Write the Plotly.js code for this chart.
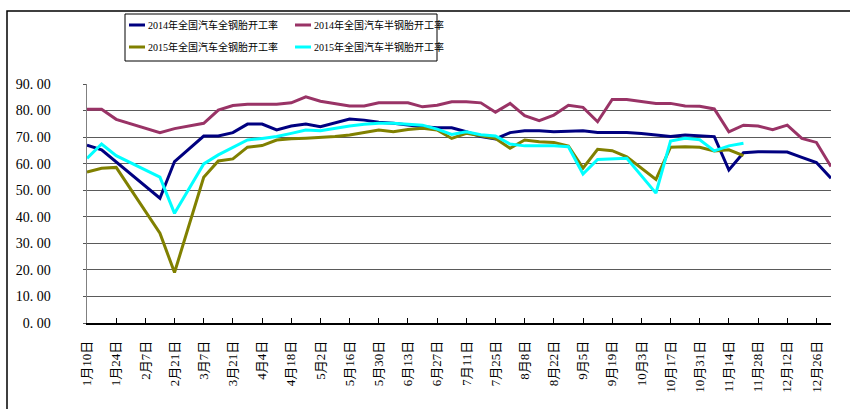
<!DOCTYPE html>
<html>
<head>
<meta charset="utf-8">
<script src="https://cdn.plot.ly/plotly-3.0.1.min.js"></script>
<style>html,body{margin:0;padding:0;background:#fff;}#chart{width:850px;height:409px;}</style>
</head>
<body>
<div id="chart"></div>
<script>
// Weekly categories (1月10日 ... 12月26日, then 1月2日)
const categories = ["1月10日","1月17日","1月24日","1月31日","2月7日","2月14日","2月21日","2月28日","3月7日","3月14日","3月21日","3月28日","4月4日","4月11日","4月18日","4月25日","5月2日","5月9日","5月16日","5月23日","5月30日","6月6日","6月13日","6月20日","6月27日","7月4日","7月11日","7月18日","7月25日","8月1日","8月8日","8月15日","8月22日","8月29日","9月5日","9月12日","9月19日","9月26日","10月3日","10月10日","10月17日","10月24日","10月31日","11月7日","11月14日","11月21日","11月28日","12月5日","12月12日","12月19日","12月26日","1月2日"];

const seriesNames = ["2014年全国汽车全钢胎开工率","2014年全国汽车半钢胎开工率","2015年全国汽车全钢胎开工率","2015年全国汽车半钢胎开工率"];

const all2014 = [67.0,65.2,null,null,null,47.0,60.8,null,70.4,70.4,71.7,74.9,74.9,72.7,74.2,74.9,73.9,75.4,76.8,76.4,75.6,75.2,74.5,73.9,73.5,73.5,72.0,70.2,69.3,71.7,72.4,72.4,72.0,72.3,72.4,71.7,71.7,71.7,71.4,70.8,70.2,70.8,70.4,70.2,57.6,64.1,64.5,64.4,64.4,62.4,60.4,54.5];

const semi2014 = [80.5,80.5,76.7,null,null,71.7,73.2,74.2,75.2,80.2,81.9,82.4,82.4,82.4,82.9,85.2,83.5,82.7,81.7,81.7,82.9,82.9,82.9,81.4,82.0,83.3,83.3,82.9,79.4,82.7,78.1,76.2,78.3,82.0,81.2,75.8,84.2,84.2,83.5,82.7,82.7,81.7,81.6,80.6,72.0,74.5,74.2,72.8,74.5,69.5,68.0,58.9];

const all2015 = [56.8,58.3,58.6,null,null,33.8,19.0,null,54.9,61.0,61.8,66.2,66.8,68.9,69.4,69.6,69.8,70.2,70.8,71.7,72.7,72.0,72.9,73.3,72.7,69.5,71.4,70.5,69.5,65.8,68.9,68.3,68.0,66.6,58.3,65.4,64.9,62.6,null,54.1,66.2,66.4,66.2,64.8,65.2,63.0,null,null,null,null,null,null];

const semi2015 = [62.0,67.4,63.0,null,null,54.9,41.3,null,59.9,63.3,66.2,68.9,69.5,70.2,71.4,72.7,72.4,73.3,74.2,74.8,75.2,75.2,74.8,74.5,73.0,71.0,72.0,70.9,70.4,67.4,66.7,66.7,66.7,66.4,56.1,61.6,61.9,62.0,null,48.9,68.5,69.6,69.0,64.8,66.7,67.7,null,null,null,null,null,null];

const yTickVals = [0,10,20,30,40,50,60,70,80,90];
const yTickText = ["0. 00","10. 00","20. 00","30. 00","40. 00","50. 00","60. 00","70. 00","80. 00","90. 00"];
const xTickVals = categories.filter((c, i) => i % 2 === 0);

const colors = ["#000080","#993366","#808000","#00FFFF"];
const values = [all2014, semi2014, all2015, semi2015];

const FONT = "'Liberation Serif', 'Noto Sans CJK SC', serif";

// page-pixel -> paper conversions (plot area: x 87..831, y 84..323)
const ML = 87, MT = 84, PW = 744, PH = 239;
const px2x = (px) => (px - ML) / PW;
const px2y = (py) => 1 + (MT - py) / PH;

const traces = values.map((v, k) => ({
  type: "scatter",
  mode: "lines",
  x: categories,
  y: v,
  name: seriesNames[k],
  connectgaps: true,
  line: {color: colors[k], width: 3, shape: "linear"},
  hoverinfo: "x+y+name"
}));

// legend entries (2 x 2 grid) drawn as line samples + text
const legendCols = [129, 295];
const legendRows = [25, 47];
const legendShapes = [];
const legendAnnotations = [];
seriesNames.forEach((name, k) => {
  const cx = legendCols[k % 2];
  const cy = legendRows[Math.floor(k / 2)];
  legendShapes.push({
    type: "line", xref: "paper", yref: "paper",
    x0: px2x(cx), x1: px2x(cx + 16), y0: px2y(cy), y1: px2y(cy),
    line: {color: colors[k], width: 3}
  });
  legendAnnotations.push({
    xref: "paper", yref: "paper",
    x: px2x(cx + 17), y: px2y(cy),
    xanchor: "left", yanchor: "middle",
    text: name, showarrow: false,
    font: {family: FONT, size: 10, color: "#000000"}
  });
});

const layout = {
  width: 850,
  height: 409,
  margin: {l: ML, r: 850 - ML - PW, t: MT, b: 409 - MT - PH},
  paper_bgcolor: "#ffffff",
  plot_bgcolor: "#ffffff",
  font: {family: FONT, color: "#000000", size: 13},
  showlegend: false,
  xaxis: {
    type: "category",
    range: [0, 51],
    automargin: false,
    tickmode: "array",
    tickvals: xTickVals,
    ticktext: xTickVals,
    tickangle: -90,
    ticks: "inside",
    ticklen: 5,
    tickwidth: 1,
    tickcolor: "#000000",
    showline: true,
    linecolor: "#000000",
    linewidth: 1.5,
    showgrid: false,
    zeroline: false,
    ticklabelstandoff: 11,
    tickfont: {family: FONT, size: 13, color: "#000000"},
    fixedrange: true
  },
  yaxis: {
    range: [0, 90],
    automargin: false,
    tickmode: "array",
    tickvals: yTickVals,
    ticktext: yTickText,
    ticks: "outside",
    ticklen: 3,
    tickcolor: "#555555",
    showline: true,
    linecolor: "#808080",
    linewidth: 1.5,
    showgrid: true,
    gridcolor: "#5a5a5a",
    gridwidth: 1,
    zeroline: false,
    ticklabelstandoff: 29,
    tickfont: {family: FONT, size: 14, color: "#000000"},
    fixedrange: true
  },
  shapes: [{
    type: "rect", xref: "paper", yref: "paper",
    x0: px2x(7), x1: px2x(1000), y0: px2y(600), y1: px2y(11),
    line: {color: "#000000", width: 1.5},
    fillcolor: "rgba(0,0,0,0)",
    layer: "below"
  }, {
    type: "rect", xref: "paper", yref: "paper",
    x0: px2x(125), x1: px2x(437), y0: px2y(61), y1: px2y(14),
    line: {color: "#000000", width: 1},
    fillcolor: "rgba(0,0,0,0)",
    layer: "above"
  }].concat(legendShapes),
  annotations: legendAnnotations
};

Plotly.newPlot("chart", traces, layout, {displayModeBar: false, staticPlot: true});
</script>
</body>
</html>
